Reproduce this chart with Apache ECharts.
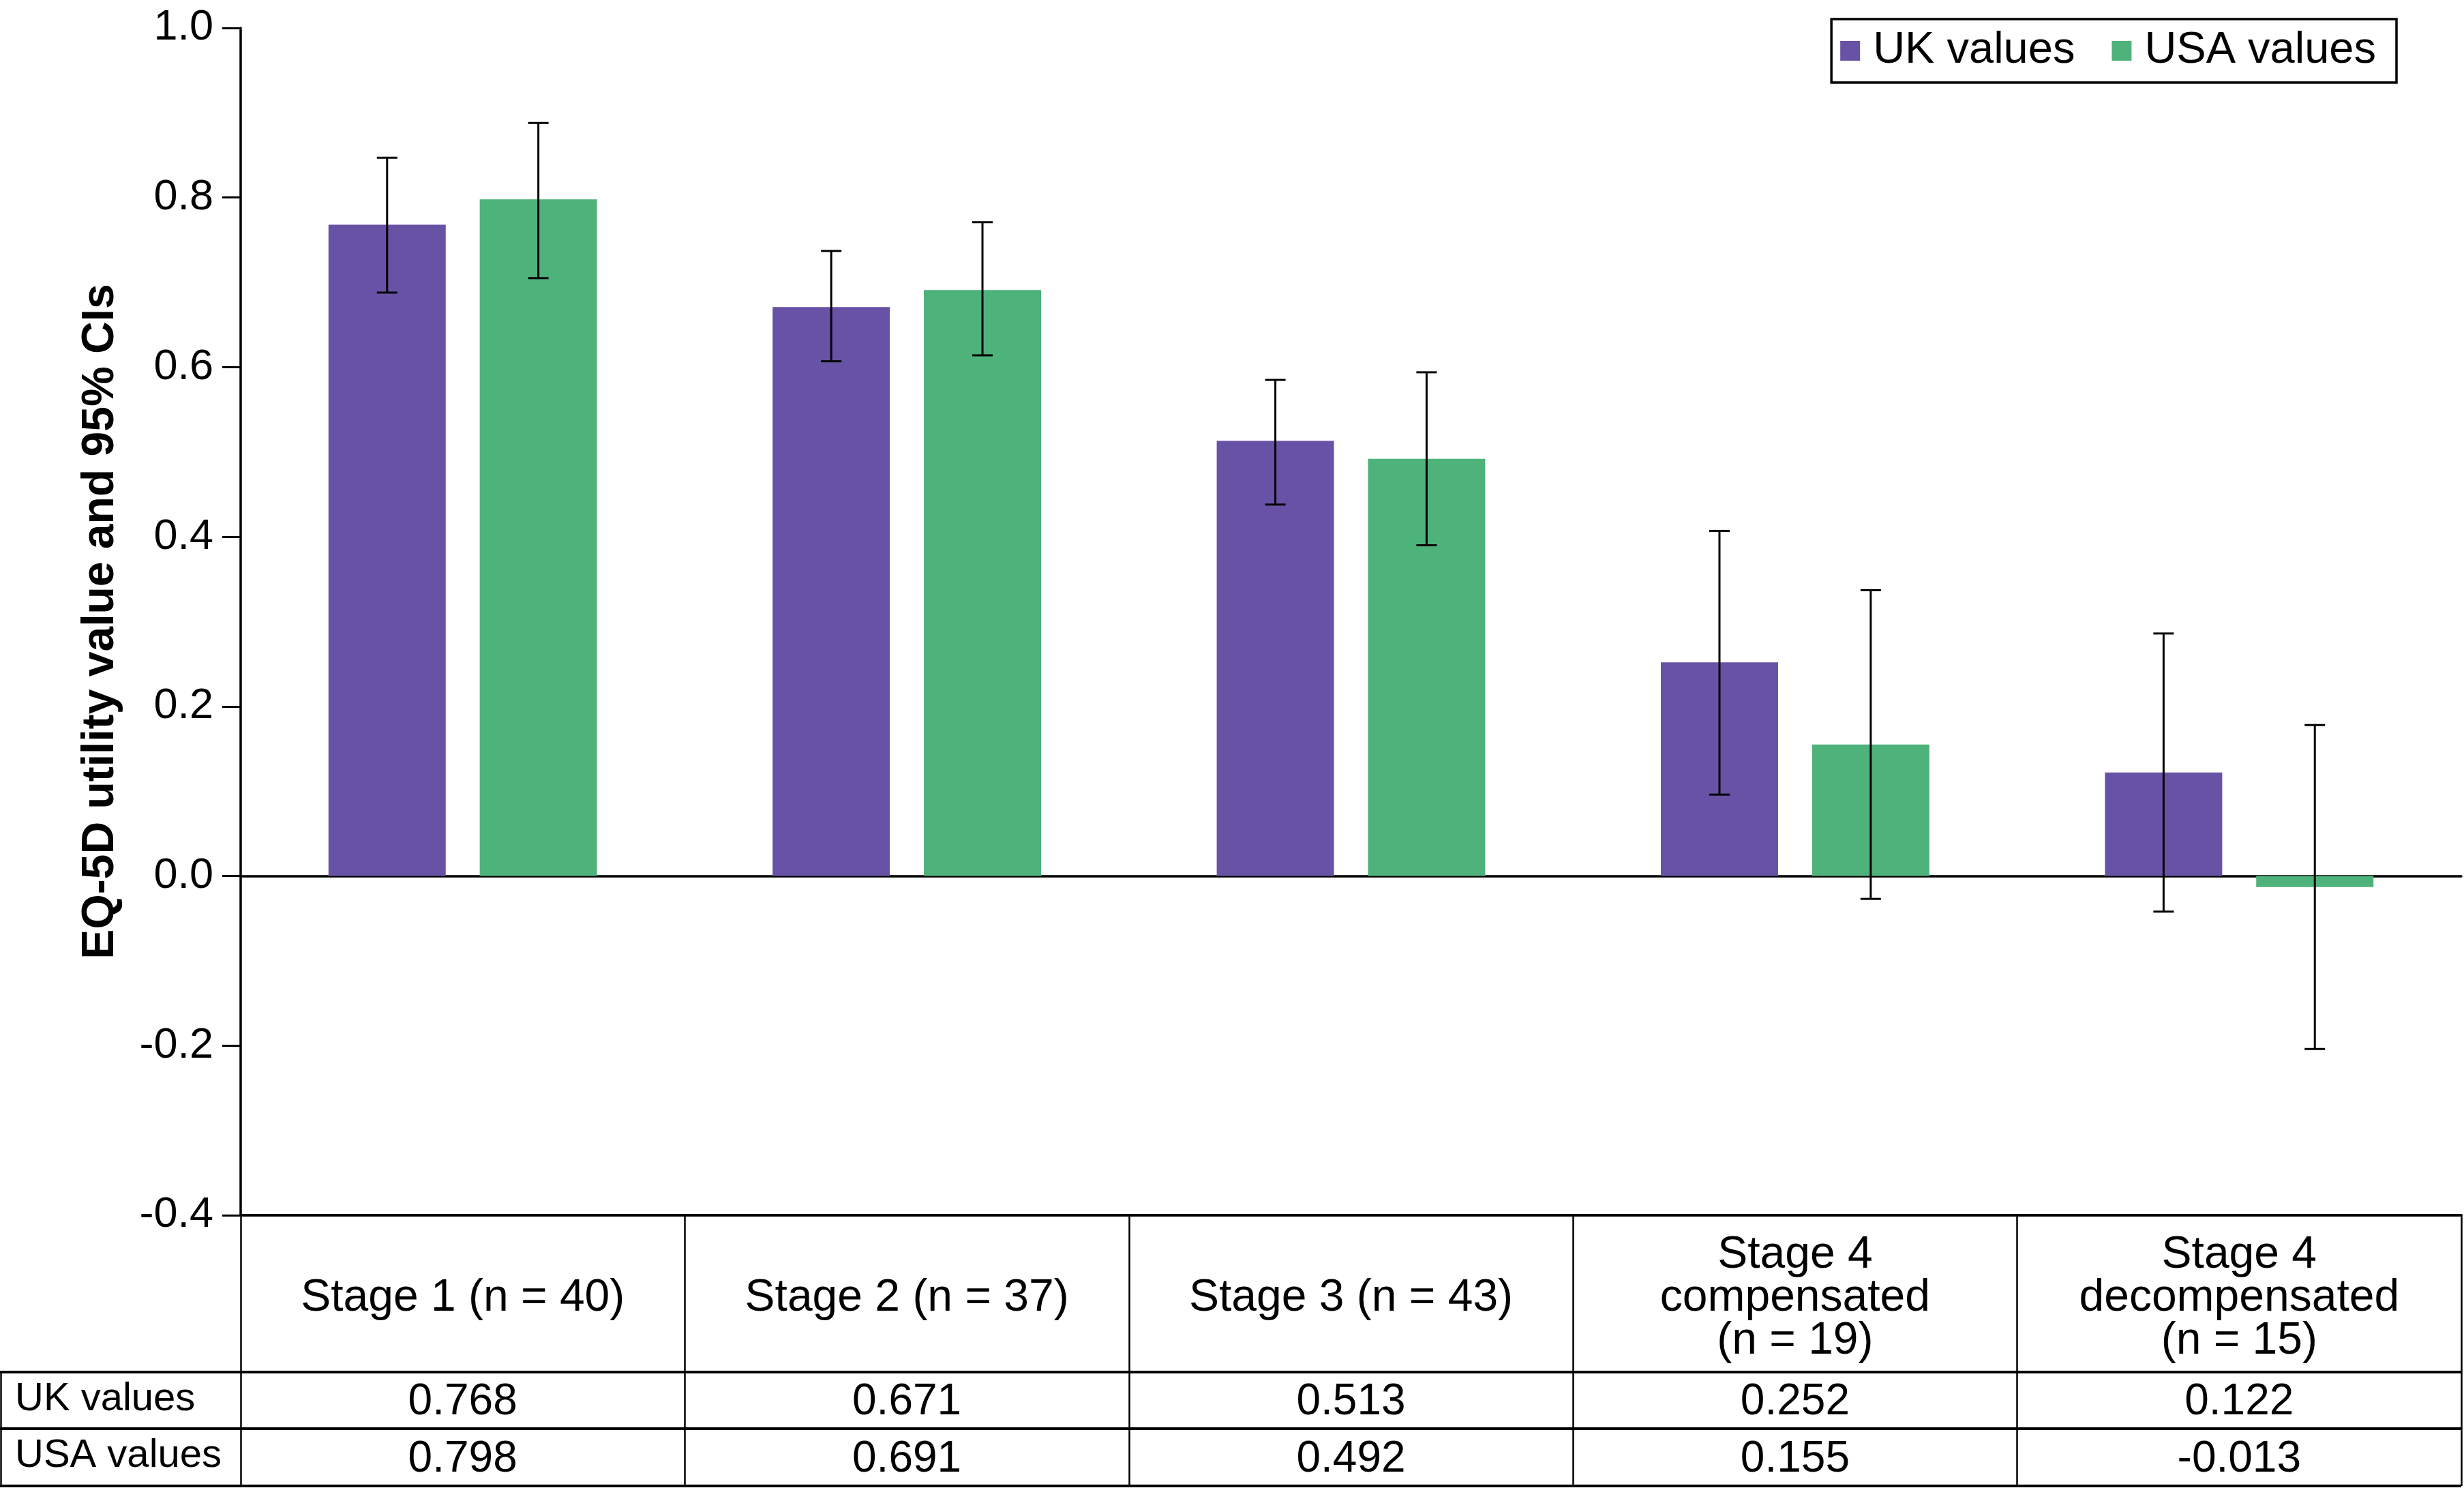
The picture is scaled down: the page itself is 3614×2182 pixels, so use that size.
<!DOCTYPE html>
<html>
<head>
<meta charset="utf-8">
<script src="https://cdn.jsdelivr.net/npm/echarts@6/dist/echarts.min.js"></script>
<style>
html,body{margin:0;padding:0;background:#fff;}
#chart{width:3614px;height:2182px;}
</style>
</head>
<body>
<div id="chart"></div>
<script>
// ---------- data ----------
const categories = [
  'Stage 1 (n = 40)',
  'Stage 2 (n = 37)',
  'Stage 3 (n = 43)',
  'Stage 4\ncompensated\n(n = 19)',
  'Stage 4\ndecompensated\n(n = 15)'
];
const seriesNames = ['UK values', 'USA values'];
const ukValues  = [0.768, 0.671, 0.513, 0.252, 0.122];
const usaValues = [0.798, 0.691, 0.492, 0.155, -0.013];
const ukLow   = [0.688, 0.607, 0.438, 0.096, -0.042];
const ukHigh  = [0.847, 0.737, 0.585, 0.407, 0.286];
const usaLow  = [0.705, 0.614, 0.390, -0.027, -0.204];
const usaHigh = [0.888, 0.771, 0.594, 0.337, 0.178];
const yMin = -0.4, yMax = 1.0, yInterval = 0.2;
const yTitle = 'EQ-5D utility value and 95% CIs';

// ---------- styling / layout ----------
const FONT = "'Liberation Sans', Arial, Helvetica, sans-serif";
const W = 3614, H = 2182;
const GRID_L = 353, GRID_R = 4, GRID_T = 41, AXIS_Y = 1782;
const ROW1 = 2012, ROW2 = 2095, ROW3 = 2179;
const TABLE_R = W - GRID_R;
const PURPLE = '#6852A5', GREEN = '#4EB27B';
const BAR_FRAC = 0.264, GAP_FRAC = 0.29;

const chart = echarts.init(document.getElementById('chart'), null, {renderer: 'canvas', width: W, height: H});

function errorBarSeries(name, low, high, sign) {
  return {
    type: 'custom',
    name: name,
    xAxisIndex: 0,
    yAxisIndex: 0,
    z: 10,
    itemStyle: {color: '#000'},
    encode: {x: 0, y: [1, 2]},
    data: low.map((lo, i) => [i, lo, high[i]]),
    renderItem: function (params, api) {
      const idx = api.value(0);
      const top = api.coord([idx, api.value(2)]);
      const bot = api.coord([idx, api.value(1)]);
      const band = api.size([1, 0])[0];
      const x = top[0] + sign * band * BAR_FRAC * (1 + GAP_FRAC) / 2;
      const half = 15;
      const st = {stroke: '#000', lineWidth: 3};
      return {
        type: 'group',
        children: [
          {type: 'line', shape: {x1: x, y1: top[1], x2: x, y2: bot[1]}, style: st},
          {type: 'line', shape: {x1: x - half, y1: top[1], x2: x + half, y2: top[1]}, style: st},
          {type: 'line', shape: {x1: x - half, y1: bot[1], x2: x + half, y2: bot[1]}, style: st}
        ]
      };
    }
  };
}

const hLine = (y, x1, x2, w) => ({
  type: 'line', silent: true,
  shape: {x1: x1, y1: y, x2: x2, y2: y},
  style: {stroke: '#000', lineWidth: w}
});

const option = {
  animation: false,
  backgroundColor: '#fff',
  textStyle: {fontFamily: FONT, color: '#000'},
  grid: {left: GRID_L, right: GRID_R, top: GRID_T, bottom: H - AXIS_Y, containLabel: false, outerBoundsMode: 'none'},
  legend: {
    data: seriesNames,
    right: W - 3515,
    top: 28,
    orient: 'horizontal',
    icon: 'rect',
    itemWidth: 29,
    itemHeight: 29,
    itemGap: 54,
    padding: [14, 30, 14, 13],
    borderColor: '#000',
    borderWidth: 3.5,
    borderRadius: 0,
    textStyle: {fontSize: 65, color: '#000', fontFamily: FONT, padding: [0, 0, 0, 14]}
  },
  xAxis: [
    { // zero line
      type: 'category', data: categories, position: 'bottom',
      axisLine: {show: true, onZero: true, lineStyle: {color: '#000', width: 3.5}},
      axisTick: {show: false}, axisLabel: {show: false}, splitLine: {show: false}
    },
    { // table header row (top border at -0.4, vertical separators via ticks)
      type: 'category', data: categories, position: 'bottom',
      axisLine: {show: true, onZero: false, lineStyle: {color: '#000', width: 4}},
      axisTick: {show: true, interval: 0, length: ROW3 - AXIS_Y, lineStyle: {color: '#000', width: 2.5}},
      axisLabel: {show: true, interval: 0, margin: (AXIS_Y + ROW1) / 2 - AXIS_Y + 7, verticalAlign: 'middle',
        fontSize: 66, lineHeight: 63, color: '#000', fontFamily: FONT, align: 'center'},
      splitLine: {show: false}
    },
    { // UK values row
      type: 'category', data: categories, position: 'bottom',
      axisLine: {show: false, onZero: false}, axisTick: {show: false},
      axisLabel: {show: true, interval: 0, margin: (ROW1 + ROW2) / 2 - AXIS_Y + 3, verticalAlign: 'middle',
        fontSize: 64, color: '#000', fontFamily: FONT,
        formatter: (v, i) => ukValues[i].toFixed(3)},
      splitLine: {show: false}
    },
    { // USA values row
      type: 'category', data: categories, position: 'bottom',
      axisLine: {show: false, onZero: false}, axisTick: {show: false},
      axisLabel: {show: true, interval: 0, margin: (ROW2 + ROW3) / 2 - AXIS_Y + 3, verticalAlign: 'middle',
        fontSize: 64, color: '#000', fontFamily: FONT,
        formatter: (v, i) => usaValues[i].toFixed(3)},
      splitLine: {show: false}
    }
  ],
  yAxis: {
    type: 'value', min: yMin, max: yMax, interval: yInterval,
    name: yTitle, nameLocation: 'middle', nameGap: 172,
    nameTextStyle: {fontSize: 66, fontWeight: 'bold', color: '#000', fontFamily: FONT},
    axisLine: {show: true, lineStyle: {color: '#000', width: 3.5}},
    axisTick: {show: true, length: 27, lineStyle: {color: '#000', width: 3}},
    axisLabel: {margin: 40, fontSize: 63, color: '#000', fontFamily: FONT, formatter: v => v.toFixed(1)},
    splitLine: {show: false}
  },
  series: [
    {type: 'bar', name: seriesNames[0], data: ukValues, xAxisIndex: 0, barWidth: (BAR_FRAC * 100) + '%', barGap: (GAP_FRAC * 100) + '%', itemStyle: {color: PURPLE}},
    {type: 'bar', name: seriesNames[1], data: usaValues, xAxisIndex: 0, barWidth: (BAR_FRAC * 100) + '%', barGap: (GAP_FRAC * 100) + '%', itemStyle: {color: GREEN}},
    errorBarSeries('UK CI', ukLow, ukHigh, -1),
    errorBarSeries('USA CI', usaLow, usaHigh, 1)
  ],
  graphic: [
    hLine(ROW1, 0, TABLE_R, 4),
    hLine(ROW2, 0, TABLE_R, 4),
    hLine(ROW3, 0, TABLE_R, 4),
    {type: 'line', silent: true, shape: {x1: 1.5, y1: ROW1, x2: 1.5, y2: ROW3}, style: {stroke: '#000', lineWidth: 2.5}},
    {type: 'text', silent: true, left: 22, top: (ROW1 + ROW2) / 2 - 31,
      style: {text: seriesNames[0], font: '58px ' + FONT, fill: '#000'}},
    {type: 'text', silent: true, left: 22, top: (ROW2 + ROW3) / 2 - 31,
      style: {text: seriesNames[1], font: '58px ' + FONT, fill: '#000'}}
  ]
};
chart.setOption(option);
</script>
</body>
</html>
